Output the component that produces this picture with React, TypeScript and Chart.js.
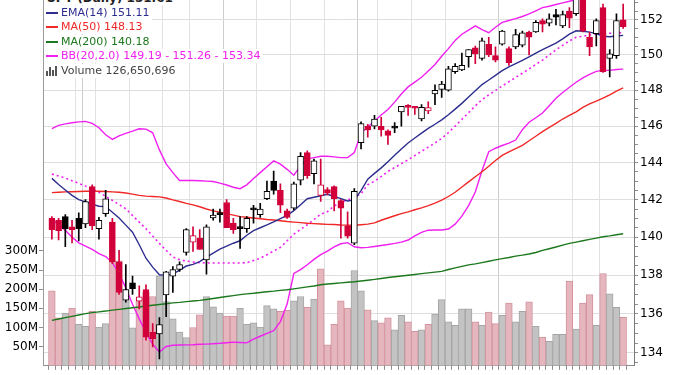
import React, { useEffect, useRef } from "react";
import { Chart, registerables } from "chart.js";

Chart.register(...registerables);

// ---------------- data ----------------
const ticker = "SPY";

const opens = [
  141.0, 140.9, 141.1, 140.55, 141.0, 140.7, 142.7, 140.45, 141.25, 140.8,
  138.7, 136.7, 137.6, 136.65, 137.25, 135.05, 134.97, 136.97, 137.95, 138.3,
  139.2, 139.73, 139.95, 138.8, 141.03, 141.25, 141.85, 140.75, 140.52, 140.45,
  141.55, 141.2, 142.05, 143.0, 142.5, 141.4, 141.55, 143.05, 144.55, 143.4,
  142.23, 142.55, 142.7, 141.95, 140.6, 139.68, 145.1, 146.0, 146.0, 146.0,
  145.75, 146.0, 146.8, 147.1, 147.05, 146.4, 146.85, 147.8, 148.05, 148.0,
  149.05, 149.15, 149.9, 150.4, 149.8, 150.6, 149.95, 150.6, 150.35, 150.45,
  150.55, 151.3, 151.3, 151.95, 151.8, 152.3, 151.65, 152.5, 152.35, 153.2,
  151.0, 151.2, 152.7, 149.8, 149.95, 152.0,
];
const highs = [
  141.1, 141.0, 141.2, 140.9, 141.3, 142.0, 142.8, 141.05, 142.5, 141.0,
  139.3, 138.55, 137.95, 137.45, 137.5, 135.5, 135.8, 138.2, 138.45, 138.7,
  140.45, 140.55, 140.4, 140.65, 141.5, 141.5, 142.0, 141.0, 141.1, 141.1,
  141.7, 141.8, 143.0, 143.55, 142.85, 141.5, 142.95, 144.55, 144.65, 144.2,
  144.2, 142.65, 142.75, 142.0, 141.35, 142.6, 146.25, 146.1, 146.6, 146.5,
  145.8, 146.2, 147.1, 147.2, 147.1, 147.2, 147.35, 148.3, 148.5, 149.35,
  149.5, 150.1, 150.3, 150.5, 150.95, 151.0, 150.45, 151.4, 150.45, 151.45,
  151.35, 151.35, 151.95, 152.05, 152.35, 152.6, 152.5, 152.7, 153.3, 153.3,
  151.3, 152.05, 152.9, 150.3, 152.35, 152.9,
];
const lows = [
  139.9, 139.85, 139.5, 139.7, 139.8, 140.5, 140.4, 139.9, 141.1, 138.6,
  137.0, 136.6, 137.0, 136.25, 134.65, 134.3, 133.7, 135.85, 137.1, 138.2,
  139.05, 139.25, 139.35, 138.05, 140.9, 140.8, 140.5, 140.2, 139.4, 140.25,
  140.75, 141.05, 142.0, 142.3, 141.3, 141.0, 141.45, 142.8, 143.15, 142.85,
  141.9, 142.25, 141.4, 139.95, 139.95, 139.6, 144.75, 145.4, 145.85, 145.45,
  145.0, 145.65, 146.0, 146.6, 146.65, 146.3, 146.7, 147.2, 147.6, 147.95,
  148.95, 149.1, 149.3, 149.5, 149.7, 149.9, 149.6, 150.55, 149.4, 150.35,
  150.45, 150.0, 151.28, 151.3, 151.65, 151.7, 151.55, 151.55, 152.25, 151.3,
  149.95, 150.5, 149.0, 148.75, 149.8, 151.5,
];
const closes = [
  140.4, 140.35, 140.45, 140.4, 140.45, 141.9, 140.6, 140.9, 142.05, 138.7,
  137.1, 137.25, 137.3, 136.87, 134.8, 134.72, 135.45, 138.18, 138.3, 138.55,
  140.4, 140.08, 139.35, 140.55, 141.17, 141.2, 140.5, 140.4, 140.45, 141.0,
  141.45, 141.5, 142.45, 142.5, 141.7, 141.05, 142.85, 144.35, 143.3, 144.1,
  142.8, 142.35, 142.05, 141.55, 140.05, 142.45, 146.15, 145.8, 146.4, 145.8,
  145.5, 145.9, 147.1, 147.05, 147.0, 147.05, 147.03, 148.0, 148.35, 149.2,
  149.35, 149.4, 150.3, 150.05, 150.8, 150.0, 149.7, 151.35, 149.55, 151.15,
  151.25, 151.0, 151.85, 151.75, 152.05, 152.15, 152.3, 152.1, 153.25, 151.35,
  150.45, 151.95, 149.05, 150.05, 151.95, 151.61,
];
const volumes = [
  196e6, 125e6, 138e6, 151e6, 108e6, 103e6, 142e6, 101e6, 110e6, 273e6,
  274e6, 199e6, 99e6, 177e6, 192e6, 181e6, 235e6, 168e6, 123e6, 88e6,
  74e6, 100e6, 133e6, 181e6, 154e6, 138e6, 130e6, 130e6, 150e6, 108e6,
  112e6, 101e6, 157e6, 149e6, 142e6, 145e6, 170e6, 181e6, 153e6, 174e6,
  253e6, 55e6, 108e6, 170e6, 151e6, 249e6, 196e6, 146e6, 118e6, 112e6,
  125e6, 94e6, 132e6, 115e6, 90e6, 94e6, 108e6, 135e6, 173e6, 115e6,
  106e6, 149e6, 149e6, 115e6, 106e6, 140e6, 110e6, 132e6, 164e6, 115e6,
  142e6, 167e6, 103e6, 75e6, 64e6, 82e6, 82e6, 221e6, 96e6, 164e6,
  186e6, 106e6, 241e6, 188e6, 153e6, 126650696,
];
const ema14 = [
  143.15, 142.82, 142.52, 142.23, 142.0, 141.88, 141.76, 141.65, 141.63, 141.33,
  141.02, 140.64, 140.26, 139.6, 138.89, 138.42, 138.02, 138.0, 138.06, 138.27,
  138.48, 138.57, 138.71, 138.95, 139.16, 139.37, 139.53, 139.68, 139.81, 140.1,
  140.35, 140.5, 140.65, 140.81, 140.98, 141.16, 141.41, 141.73, 142.05, 142.13,
  142.21, 142.29, 142.17, 142.06, 141.93, 141.99, 142.49, 143.11, 143.42, 143.72,
  144.05, 144.41, 144.75, 145.08, 145.35, 145.62, 145.88, 146.11, 146.35, 146.64,
  146.95, 147.27, 147.62, 147.97, 148.32, 148.58, 148.84, 149.1, 149.32, 149.5,
  149.68, 149.88, 150.09, 150.3, 150.48, 150.66, 150.91, 151.18, 151.37, 151.34,
  151.29, 151.21, 151.06, 151.03, 151.07, 151.11,
];
const ma50 = [
  142.38, 142.4, 142.42, 142.43, 142.44, 142.45, 142.45, 142.45, 142.44, 142.42,
  142.4, 142.36, 142.3, 142.23, 142.19, 142.17, 142.15, 142.09, 141.99, 141.9,
  141.8, 141.72, 141.62, 141.5, 141.4, 141.33, 141.25, 141.17, 141.09, 141.06,
  141.02, 140.98, 140.94, 140.91, 140.87, 140.83, 140.8, 140.77, 140.74, 140.72,
  140.7, 140.68, 140.67, 140.65, 140.64, 140.63, 140.66, 140.69, 140.76, 140.9,
  141.02, 141.14, 141.25, 141.35, 141.46, 141.56, 141.68, 141.82, 141.98, 142.17,
  142.4, 142.68, 142.96, 143.24, 143.51, 143.81, 144.12, 144.4, 144.59, 144.77,
  144.95, 145.2, 145.45, 145.7, 145.94, 146.16, 146.4, 146.6, 146.8, 147.05,
  147.24, 147.4, 147.56, 147.75, 147.95, 148.13,
];
const ma200 = [
  135.66, 135.73, 135.8, 135.87, 135.94, 136.01, 136.06, 136.1, 136.14, 136.19,
  136.23, 136.27, 136.31, 136.35, 136.4, 136.44, 136.48, 136.52, 136.56, 136.59,
  136.63, 136.66, 136.69, 136.74, 136.79, 136.84, 136.89, 136.94, 136.99, 137.03,
  137.06, 137.1, 137.14, 137.17, 137.21, 137.24, 137.29, 137.34, 137.39, 137.44,
  137.5, 137.54, 137.57, 137.6, 137.63, 137.66, 137.7, 137.74, 137.78, 137.83,
  137.88, 137.92, 137.96, 138.0, 138.04, 138.08, 138.12, 138.16, 138.2, 138.3,
  138.38, 138.46, 138.54, 138.59, 138.66, 138.73, 138.8, 138.87, 138.93, 139.0,
  139.05, 139.11, 139.19, 139.3, 139.39, 139.48, 139.58, 139.67, 139.74, 139.81,
  139.88, 139.95, 140.02, 140.07, 140.13, 140.18,
];
const bbUpper = [
  145.87, 146.05, 146.13, 146.19, 146.24, 146.27, 146.16, 145.92, 145.53, 145.28,
  145.47, 145.61, 145.73, 145.86, 145.84, 145.64, 144.7, 143.94, 143.46, 143.03,
  143.03, 143.03, 143.02, 143.0, 142.98, 142.89, 142.79, 142.67, 142.59, 142.8,
  143.14, 143.46, 143.78, 144.1, 143.92, 143.64, 143.32, 143.83, 144.21, 144.28,
  144.35, 144.35, 144.32, 144.28, 144.28, 144.56, 145.62, 145.96, 146.29, 146.62,
  146.93, 147.34, 147.79, 148.19, 148.46, 148.73, 149.09, 149.45, 149.92, 150.35,
  150.82, 151.17, 151.41, 151.65, 151.44, 151.26, 151.57, 151.85, 151.96, 152.07,
  152.19, 152.34, 152.52, 152.7, 152.78, 152.88, 152.98, 153.07, 153.17, 153.23,
  153.27, 153.31, 153.33, 153.34, 153.34, 153.34,
];
const bbMiddle = [
  143.38, 143.28, 143.17, 143.02, 142.88, 142.73, 142.58, 142.4, 142.18, 141.96,
  141.74, 141.51, 141.15, 140.8, 140.45, 140.06, 139.67, 139.3, 138.96, 138.81,
  138.74, 138.69, 138.66, 138.64, 138.64, 138.64, 138.64, 138.64, 138.64, 138.65,
  138.77, 138.89, 139.07, 139.27, 139.46, 139.81, 140.16, 140.41, 140.66, 140.94,
  141.22, 141.36, 141.66, 141.86, 141.99, 142.13, 142.32, 142.81, 142.99, 143.25,
  143.52, 143.74, 143.95, 144.16, 144.39, 144.62, 144.85, 145.08, 145.33, 145.65,
  146.01, 146.38, 146.75, 147.13, 147.48, 147.74, 147.99, 148.24, 148.48, 148.72,
  148.96, 149.2, 149.45, 149.7, 149.99, 150.28, 150.54, 150.79, 151.0, 151.05,
  151.13, 151.19, 151.21, 151.23, 151.24, 151.26,
];
const bbLower = [
  140.94, 140.66, 140.36, 139.99, 139.7, 139.53, 139.35, 139.13, 138.98, 138.66,
  138.08, 137.34, 136.49, 135.74, 135.03, 134.45, 134.05, 134.33, 134.39, 134.4,
  134.41, 134.42, 134.44, 134.45, 134.47, 134.49, 134.52, 134.55, 134.53, 134.51,
  134.7, 134.85, 135.0, 135.14, 135.6, 136.5, 138.09, 138.29, 138.55, 138.83,
  139.08, 139.26, 139.49, 139.65, 139.71, 139.49, 139.44, 139.46, 139.51, 139.56,
  139.61, 139.67, 139.74, 139.85, 140.07, 140.25, 140.37, 140.38, 140.38, 140.43,
  140.69, 141.12, 141.68, 142.41, 143.58, 144.6, 144.79, 144.94, 145.07, 145.24,
  145.81, 146.22, 146.47, 146.73, 147.14, 147.56, 147.88, 148.17, 148.45, 148.7,
  148.89, 149.06, 149.12, 149.12, 149.17, 149.19,
];

const priceTickLabels = [134, 136, 138, 140, 142, 144, 146, 148, 150, 152];
const volumeTickLabels = [50e6, 100e6, 150e6, 200e6, 250e6, 300e6];
const weekGridBars = [4, 7, 12, 17, 21, 31, 36, 41, 49, 54, 59, 78, 82];
const monthGridBars = [5, 26, 46, 67];

// ---------------- styles ----------------
const FONT = "DejaVu Sans";
const RED = "#D2003A";
const BLACK = "#000000";
const EMA_C = "#2E2E8F";
const MA50_C = "#F02828";
const MA200_C = "#1C781C";
const BB_C = "#F020F0";

export default function App() {
  const canvasRef = useRef<HTMLCanvasElement | null>(null);

  useEffect(() => {
    const idx = closes.map((_, i) => i);
    const isUp = idx.map((i) => closes[i] >= (i > 0 ? closes[i - 1] : opens[i]));
    const candleColor = isUp.map((u) => (u ? BLACK : RED));
    const hollow = idx.map((i) => closes[i] >= opens[i]);

    const line = (vals: number[], color: string, order: number, dash: number[] = [], width = 1.4) => ({
      type: "line" as const,
      data: vals.map((v, i) => ({ x: i, y: v })),
      borderColor: color,
      borderWidth: width,
      borderDash: dash,
      pointRadius: 0,
      tension: 0,
      fill: false,
      yAxisID: "price",
      order,
    });

    const minorPriceTicks: number[] = [];
    for (let k = 267; k <= 307; k++) minorPriceTicks.push(k / 2);

    const chart = new Chart(canvasRef.current as HTMLCanvasElement, {
      type: "bar",
      data: {
        datasets: [
          {
            type: "bar",
            label: "body",
            data: idx.map((i) => ({ x: i, y: [opens[i], closes[i]] })),
            backgroundColor: idx.map((i) => (hollow[i] ? "#ffffff" : candleColor[i])),
            borderColor: candleColor,
            borderWidth: 1,
            borderSkipped: false,
            barThickness: 6,
            minBarLength: 2,
            grouped: false,
            yAxisID: "price",
            order: 0,
          } as any,
          {
            type: "bar",
            label: "wick",
            data: idx.map((i) => ({ x: i, y: [lows[i], highs[i]] })),
            backgroundColor: candleColor,
            borderWidth: 0,
            barThickness: 1,
            grouped: false,
            yAxisID: "price",
            order: 1,
          } as any,
          line(ema14, EMA_C, 2),
          line(ma50, MA50_C, 3),
          line(ma200, MA200_C, 4),
          line(bbUpper, BB_C, 5),
          line(bbMiddle, BB_C, 6, [2, 3], 1.6),
          line(bbLower, BB_C, 7),
          {
            type: "bar",
            label: "Volume",
            data: idx.map((i) => ({ x: i, y: volumes[i] })),
            backgroundColor: isUp.map((u) => (u ? "#C3C3C3" : "#E5B6BD")),
            borderColor: isUp.map((u) => (u ? "#A5A5A5" : "#D3939E")),
            borderWidth: 1,
            barPercentage: 1,
            categoryPercentage: 1,
            grouped: false,
            yAxisID: "vol",
            order: 20,
          } as any,
        ],
      },
      options: {
        animation: false,
        responsive: false,
        events: [],
        layout: { padding: { top: 8, left: 0, right: 0, bottom: 0 }, autoPadding: false } as any,
        plugins: { legend: { display: false }, tooltip: { enabled: false }, title: { display: false } },
        scales: {
          x: {
            type: "linear",
            position: "bottom",
            min: -0.809,
            max: 86.1,
            afterBuildTicks: (s: any) => {
              s.ticks = closes.map((_, i) => ({ value: i }));
            },
            afterFit: (s: any) => {
              s.height = 6;
            },
            ticks: { display: false, autoSkip: false },
            grid: {
              color: (ctx: any) => {
                const v = ctx.tick ? ctx.tick.value : -1;
                if (monthGridBars.includes(v)) return "#CDCDCD";
                if (weekGridBars.includes(v)) return "#E2E2E2";
                return "rgba(0,0,0,0)";
              },
              tickColor: "#8C8C8C",
              tickLength: 4,
              lineWidth: 1,
            },
            border: { color: "#8C8C8C" },
          },
          vol: {
            type: "linear",
            position: "left",
            min: 0,
            max: 983.7e6,
            afterBuildTicks: (s: any) => {
              s.ticks = volumeTickLabels.map((v) => ({ value: v }));
            },
            afterFit: (s: any) => {
              s.width = 43;
            },
            ticks: {
              autoSkip: false,
              padding: 1,
              color: "#000",
              font: { family: FONT, size: 12 },
              callback: (v: any) => `${Math.round(Number(v) / 1e6)}M`,
            },
            grid: { drawOnChartArea: false, tickColor: "#8C8C8C", tickLength: 4 },
            border: { color: "#9A9A9A" },
          },
          price: {
            type: "logarithmic",
            position: "right",
            min: 133.35,
            max: 153.77,
            bounds: "data",
            afterBuildTicks: (s: any) => {
              s.ticks = minorPriceTicks.map((v) => ({ value: v }));
            },
            afterFit: (s: any) => {
              s.width = 46;
            },
            ticks: {
              autoSkip: false,
              padding: 2,
              color: "#000",
              font: { family: FONT, size: 12 },
              callback: (v: any) => (priceTickLabels.includes(Number(v)) ? String(v) : ""),
            },
            grid: {
              color: (ctx: any) =>
                ctx.tick && priceTickLabels.includes(ctx.tick.value) ? "#DEDEDE" : "rgba(0,0,0,0)",
              tickColor: "#8C8C8C",
              tickLength: 4,
              lineWidth: 1,
            },
            border: { color: "#7A7A7A" },
          } as any,
        },
      },
    });
    return () => chart.destroy();
  }, []);

  const last = closes.length - 1;
  const rowBase: React.CSSProperties = {
    position: "absolute",
    left: 45,
    height: 14,
    lineHeight: "14px",
    fontFamily: FONT,
    fontSize: 11,
    background: "#ffffff",
    paddingLeft: 1,
    paddingRight: 2,
    whiteSpace: "nowrap",
    display: "flex",
    alignItems: "center",
  };
  const marker = (color: string) => (
    <span style={{ display: "inline-block", width: 12, height: 2, background: color, marginRight: 3 }} />
  );
  const rows = [
    { text: `EMA(14) ${ema14[last].toFixed(2)}`, color: EMA_C },
    { text: `MA(50) ${ma50[last].toFixed(2)}`, color: MA50_C },
    { text: `MA(200) ${ma200[last].toFixed(2)}`, color: MA200_C },
    {
      text: `BB(20,2.0) ${bbLower[last].toFixed(2)} - ${bbMiddle[last].toFixed(2)} - ${bbUpper[last].toFixed(2)}`,
      color: BB_C,
    },
  ];

  return (
    <div
      style={{ position: "absolute", left: 0, top: 0, width: 680, height: 375, overflow: "hidden", background: "#fff" }}
    >
      <canvas
        ref={canvasRef}
        width={680}
        height={395}
        style={{ position: "absolute", left: 0, top: -20, width: 680, height: 395 }}
      />
      <div
        style={{
          ...rowBase,
          top: -9,
          left: 46,
          fontWeight: "bold",
          fontSize: 12,
          color: "#222",
        }}
      >
        {`${ticker} (Daily) ${closes[last].toFixed(2)}`}
      </div>
      {rows.map((r, k) => (
        <div key={k} style={{ ...rowBase, top: 5.7 + k * 14.5, color: r.color }}>
          {marker(r.color)}
          {r.text}
        </div>
      ))}
      <div style={{ ...rowBase, top: 5.7 + 4 * 14.5, color: "#444" }}>
        <span
          style={{ display: "inline-flex", alignItems: "flex-end", width: 12, height: 10, marginRight: 3, gap: 1 }}
        >
          <span style={{ width: 2, height: 5, background: "#555" }} />
          <span style={{ width: 2, height: 9, background: "#555" }} />
          <span style={{ width: 2, height: 6, background: "#555" }} />
          <span style={{ width: 2, height: 10, background: "#555" }} />
        </span>
        {`Volume ${volumes[last].toLocaleString("en-US")}`}
      </div>
    </div>
  );
}
